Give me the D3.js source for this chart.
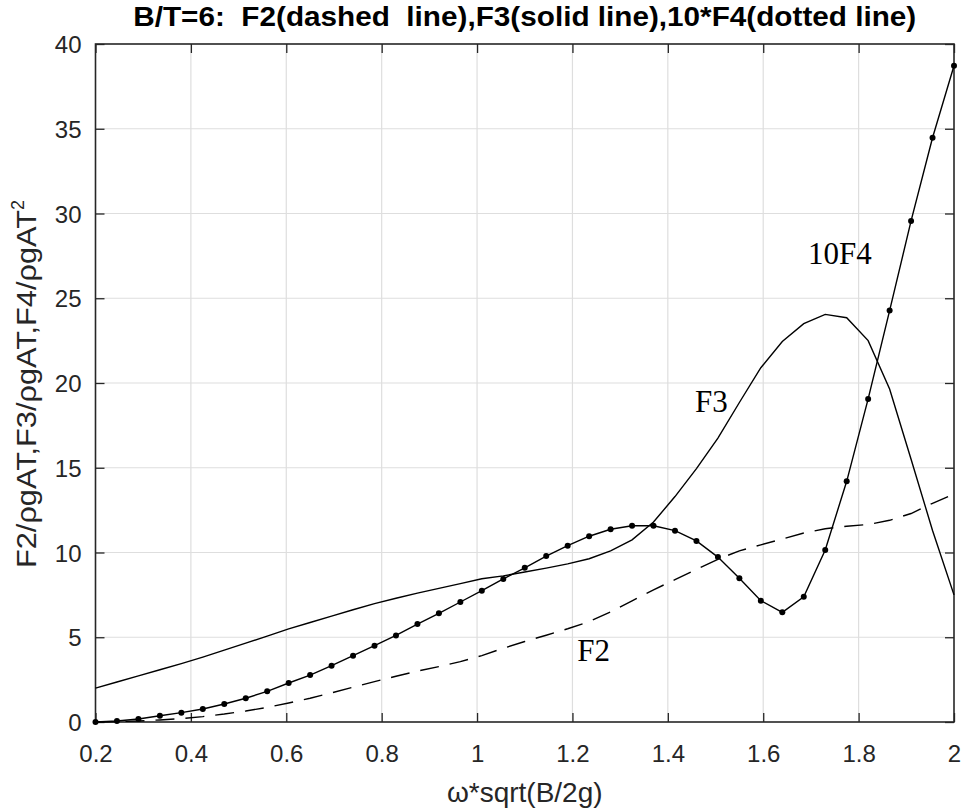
<!DOCTYPE html>
<html lang="en">
<head>
<meta charset="utf-8">
<title>B/T=6 forces</title>
<script src="https://cdn.jsdelivr.net/npm/d3@7"></script>
<style>
  body { margin: 0; background: #fff; }
  svg { display: block; }
  .tick-label { font-family: Arial, "Liberation Sans", sans-serif; fill: #262626; }
</style>
</head>
<body>
<div id="drawing"></div>
<script>
// frequency values, omega*sqrt(B/2g)
var omega = [0.2, 0.245, 0.29, 0.335, 0.38, 0.425, 0.47, 0.515, 0.56, 0.605,
  0.65, 0.695, 0.74, 0.785, 0.83, 0.875, 0.92, 0.965, 1.01, 1.055,
  1.1, 1.145, 1.19, 1.235, 1.28, 1.325, 1.37, 1.415, 1.46, 1.505,
  1.55, 1.595, 1.64, 1.685, 1.73, 1.775, 1.82, 1.865, 1.91, 1.955, 2.0];

// F2 (dashed)
var f2 = [0, 0.02, 0.06, 0.12, 0.2, 0.32, 0.47, 0.65, 0.86, 1.12,
  1.4, 1.72, 2.05, 2.38, 2.7, 3.0, 3.27, 3.56, 3.92, 4.35,
  4.75, 5.12, 5.5, 5.92, 6.5, 7.15, 7.8, 8.4, 9.0, 9.6,
  10.1, 10.45, 10.8, 11.15, 11.4, 11.55, 11.65, 11.9, 12.3, 12.9, 13.45];

// F3 (solid)
var f3 = [2.0, 2.36, 2.72, 3.08, 3.44, 3.83, 4.24, 4.65, 5.07, 5.49,
  5.87, 6.25, 6.62, 6.98, 7.3, 7.6, 7.88, 8.16, 8.45, 8.62,
  8.85, 9.08, 9.33, 9.63, 10.1, 10.75, 11.8, 13.3, 14.95, 16.75,
  18.85, 20.9, 22.45, 23.5, 24.05, 23.85, 22.5, 19.65, 15.5, 11.3, 7.5];

// 10*F4 (dotted, with markers)
var f4x10 = [0, 0.06, 0.18, 0.37, 0.55, 0.77, 1.06, 1.4, 1.81, 2.3,
  2.77, 3.32, 3.91, 4.5, 5.11, 5.78, 6.41, 7.08, 7.75, 8.44,
  9.1, 9.79, 10.4, 10.96, 11.37, 11.58, 11.58, 11.29, 10.68, 9.73,
  8.48, 7.16, 6.47, 7.39, 10.15, 14.2, 19.06, 24.27, 29.56, 34.47, 38.72];

var xTicks = [0.2, 0.4, 0.6, 0.8, 1, 1.2, 1.4, 1.6, 1.8, 2];
var yTicks = [0, 5, 10, 15, 20, 25, 30, 35, 40];

function draw() {
  var width = 964, height = 811;
  var pLeft = 95.5, pRight = 954, pTop = 44, pBottom = 722;

  var svg = d3.select('#drawing').append('svg').attr('width', width).attr('height', height);

  var x = d3.scaleLinear().domain([0.2, 2]).range([pLeft, pRight]);
  var y = d3.scaleLinear().domain([0, 40]).range([pBottom, pTop]);

  // grid
  svg.append('g').selectAll('line').data(xTicks.slice(1, -1)).enter().append('line')
    .attr('x1', function(d) { return x(d); }).attr('x2', function(d) { return x(d); })
    .attr('y1', pTop).attr('y2', pBottom)
    .attr('stroke', '#dedede').attr('stroke-width', 1.2);
  svg.append('g').selectAll('line').data(yTicks.slice(1, -1)).enter().append('line')
    .attr('y1', function(d) { return y(d); }).attr('y2', function(d) { return y(d); })
    .attr('x1', pLeft).attr('x2', pRight)
    .attr('stroke', '#dedede').attr('stroke-width', 1.2);

  // axes with inward ticks on all four sides
  var tickLen = 9;
  svg.append('g').attr('transform', 'translate(0,' + pBottom + ')')
    .call(d3.axisBottom(x).tickValues(xTicks).tickSizeInner(-tickLen).tickSizeOuter(0).tickFormat(d3.format('~g')))
    .call(function(g) {
      g.select('.domain').remove();
      g.selectAll('line').attr('stroke', '#262626').attr('stroke-width', 1.3);
      g.selectAll('text').attr('class', 'tick-label').attr('font-size', 24).attr('y', 0).attr('dy', 40).attr('fill', '#262626');
    });
  svg.append('g').attr('transform', 'translate(0,' + pTop + ')')
    .call(d3.axisTop(x).tickValues(xTicks).tickSizeInner(-tickLen).tickSizeOuter(0).tickFormat(''))
    .call(function(g) {
      g.select('.domain').remove();
      g.selectAll('line').attr('stroke', '#262626').attr('stroke-width', 1.3);
    });
  svg.append('g').attr('transform', 'translate(' + pLeft + ',0)')
    .call(d3.axisLeft(y).tickValues(yTicks).tickSizeInner(-tickLen).tickSizeOuter(0))
    .call(function(g) {
      g.select('.domain').remove();
      g.selectAll('line').attr('stroke', '#262626').attr('stroke-width', 1.3);
      g.selectAll('text').attr('class', 'tick-label').attr('font-size', 24).attr('x', -14).attr('dy', '0.36em').attr('fill', '#262626');
    });
  svg.append('g').attr('transform', 'translate(' + pRight + ',0)')
    .call(d3.axisRight(y).tickValues(yTicks).tickSizeInner(-tickLen).tickSizeOuter(0).tickFormat(''))
    .call(function(g) {
      g.select('.domain').remove();
      g.selectAll('line').attr('stroke', '#262626').attr('stroke-width', 1.3);
    });

  svg.append('rect')
    .attr('x', pLeft).attr('y', pTop).attr('width', pRight - pLeft).attr('height', pBottom - pTop)
    .attr('fill', 'none').attr('stroke', '#262626').attr('stroke-width', 1.6);

  // curves
  function series(vals) {
    return omega.map(function(w, i) { return [w, vals[i]]; });
  }
  var line = d3.line().x(function(d) { return x(d[0]); }).y(function(d) { return y(d[1]); });

  svg.append('path').datum(series(f2)).attr('d', line)
    .attr('fill', 'none').attr('stroke', '#000').attr('stroke-width', 1.4)
    .attr('stroke-dasharray', '19,11');
  svg.append('path').datum(series(f3)).attr('d', line)
    .attr('fill', 'none').attr('stroke', '#000').attr('stroke-width', 1.4);
  svg.append('path').datum(series(f4x10)).attr('d', line)
    .attr('fill', 'none').attr('stroke', '#000').attr('stroke-width', 1.4);
  svg.append('g').selectAll('circle').data(series(f4x10)).enter().append('circle')
    .attr('cx', function(d) { return x(d[0]); })
    .attr('cy', function(d) { return y(d[1]); })
    .attr('r', 3).attr('fill', '#000');

  // title and labels
  svg.append('text')
    .attr('x', (pLeft + pRight) / 2).attr('y', 26)
    .attr('text-anchor', 'middle')
    .style('white-space', 'pre')
    .attr('font-family', 'Arial, "Liberation Sans", sans-serif')
    .attr('font-weight', 'bold').attr('font-size', 27).attr('fill', '#000')
    .attr('textLength', 783).attr('lengthAdjust', 'spacingAndGlyphs')
    .text('B/T=6:  F2(dashed  line),F3(solid line),10*F4(dotted line)');

  svg.append('text')
    .attr('x', (pLeft + pRight) / 2).attr('y', 802)
    .attr('text-anchor', 'middle')
    .attr('font-family', 'Arial, "Liberation Sans", sans-serif')
    .attr('font-size', 28).attr('fill', '#262626')
    .text('ω*sqrt(B/2g)');

  var yl = svg.append('text')
    .attr('transform', 'translate(36,568) rotate(-90)')
    .attr('text-anchor', 'start')
    .attr('font-family', 'Arial, "Liberation Sans", sans-serif')
    .attr('font-size', 27).attr('fill', '#262626');
  yl.append('tspan').attr('textLength', 358).attr('lengthAdjust', 'spacingAndGlyphs')
    .text('F2/ρgAT,F3/ρgAT,F4/ρgAT');
  yl.append('tspan').attr('font-size', 18).attr('dy', -12).text('2');

  // curve annotations
  var notes = [
    { text: '10F4', x: 1.694, y: 27.0 },
    { text: 'F3', x: 1.457, y: 18.3 },
    { text: 'F2', x: 1.21, y: 3.6 }
  ];
  svg.append('g').selectAll('text').data(notes).enter().append('text')
    .attr('x', function(d) { return x(d.x); })
    .attr('y', function(d) { return y(d.y); })
    .attr('font-family', '"Liberation Serif", "Times New Roman", serif')
    .attr('font-size', 31).attr('fill', '#000')
    .text(function(d) { return d.text; });
}

draw();
</script>
</body>
</html>
